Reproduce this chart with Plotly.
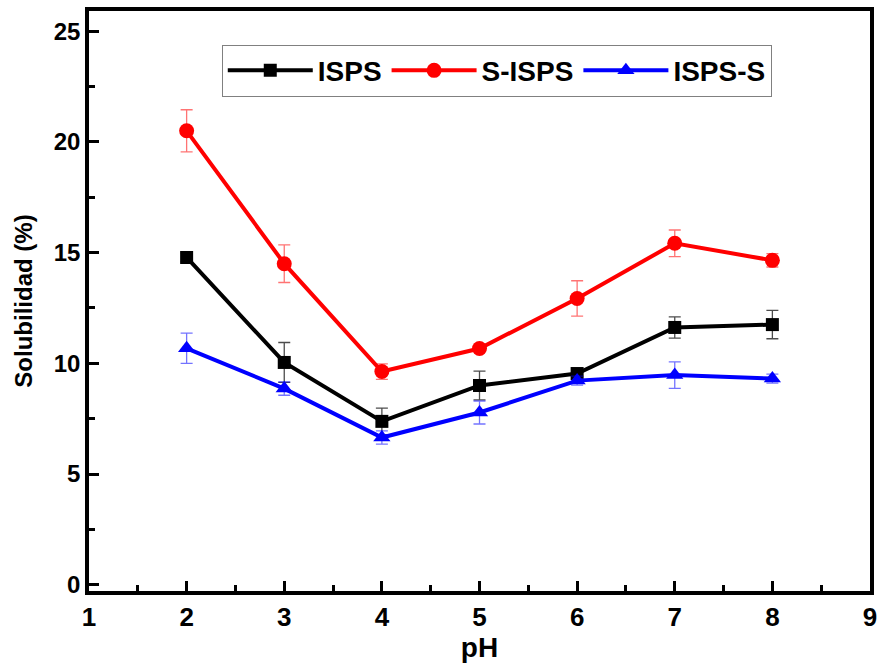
import plotly.graph_objects as go

ph = [2, 3, 4, 5, 6, 7, 8]

isps = [14.78, 10.04, 7.38, 9.0, 9.54, 11.62, 11.75]
isps_err = [0.2, 0.9, 0.6, 0.65, 0.15, 0.48, 0.64]

s_isps = [20.5, 14.5, 9.63, 10.67, 12.93, 15.42, 14.65]
s_isps_err = [0.95, 0.85, 0.35, 0.15, 0.8, 0.6, 0.3]

isps_s = [10.68, 8.86, 6.65, 7.78, 9.22, 9.47, 9.31]
isps_s_err = [0.68, 0.3, 0.3, 0.52, 0.2, 0.6, 0.2]

series = [
    ("ISPS", isps, isps_err, "black", "square", 13, "rgba(0,0,0,0.7)"),
    ("S-ISPS", s_isps, s_isps_err, "#ff0000", "circle", 15, "rgba(255,0,0,0.55)"),
    ("ISPS-S", isps_s, isps_s_err, "#0000ff", "triangle-up", 15, "rgba(0,0,255,0.55)"),
]

fig = go.Figure()
for name, y, err, col, sym, msize, ecol in series:
    fig.add_trace(go.Scatter(
        x=ph, y=y, name=name, mode="lines+markers",
        line=dict(color=col, width=4),
        marker=dict(symbol=sym, size=msize, color=col),
        error_y=dict(type="data", array=err, visible=True, color=ecol,
                     thickness=1.3, width=6),
    ))

font = "Arial, Liberation Sans, sans-serif"
narrow = "Liberation Sans Narrow, Arial Narrow, Arial, sans-serif"
fig.update_layout(
    width=881, height=664,
    margin=dict(l=89, r=4, t=11, b=73),
    plot_bgcolor="white", paper_bgcolor="white",
    font=dict(family=font, color="black"),
    legend=dict(
        orientation="h", x=0.17, y=0.942, xanchor="left", yanchor="top",
        bordercolor="#808080", borderwidth=1,
        font=dict(size=28, family=font, weight="bold"),
        itemwidth=85,
        bgcolor="white",
    ),
    xaxis=dict(
        range=[1, 9], tickvals=list(range(1, 10)),
        ticks="inside", ticklen=10, tickwidth=3, tickcolor="black",
        minor=dict(ticks="inside", ticklen=6, tickwidth=3, tickcolor="black", dtick=0.5),
        showline=True, linewidth=3.5, linecolor="black", mirror=True,
        showgrid=False, zeroline=False,
        tickfont=dict(size=26, family=narrow, weight="bold"),
        title=dict(text="pH", font=dict(size=28, family=font, weight="bold"), standoff=4),
    ),
    yaxis=dict(
        range=[-0.28, 25.91], tickvals=[0, 5, 10, 15, 20, 25],
        ticks="inside", ticklen=10, tickwidth=3, tickcolor="black",
        minor=dict(ticks="inside", ticklen=6, tickwidth=3, tickcolor="black", dtick=2.5),
        showline=True, linewidth=3.5, linecolor="black", mirror=True,
        showgrid=False, zeroline=False,
        tickfont=dict(size=24, family=font, weight="bold"),
        title=dict(text="Solubilidad (%)", font=dict(size=24, family=font, weight="bold"), standoff=15),
    ),
)

fig.write_html("out.html")
